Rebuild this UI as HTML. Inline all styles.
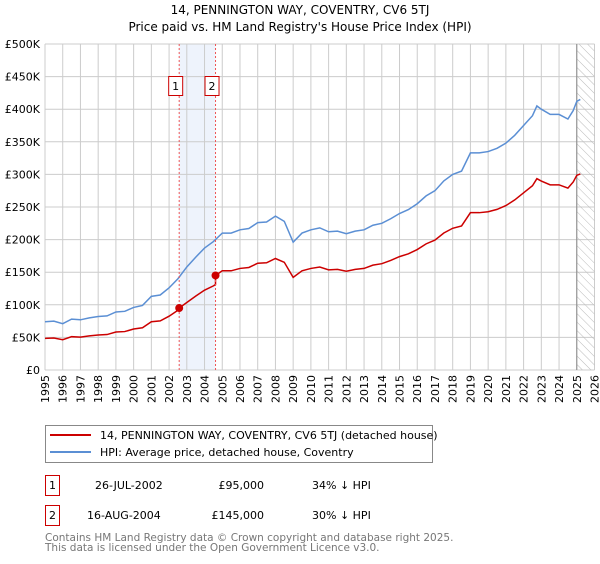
<!DOCTYPE html>
<html><head><meta charset="utf-8"><style>
body{margin:0;background:#fff;font-family:"DejaVu Sans","Liberation Sans",sans-serif;}
svg text{font-family:"DejaVu Sans","Liberation Sans",sans-serif;}
</style></head><body>
<svg id="chart" width="600" height="560" xmlns="http://www.w3.org/2000/svg">
<text x="300" y="14" font-size="12" text-anchor="middle">14, PENNINGTON WAY, COVENTRY, CV6 5TJ</text>
<text x="300" y="31" font-size="12" text-anchor="middle">Price paid vs. HM Land Registry's House Price Index (HPI)</text>
<defs><pattern id="hatch" width="6" height="6" patternUnits="userSpaceOnUse" patternTransform="rotate(-45)"><line x1="0" y1="0" x2="0" y2="6" stroke="#bbb" stroke-width="1"/></pattern></defs>
<g id="grid"></g><g id="marks"></g>
<g>
<rect x="45.5" y="425.5" width="387" height="37" fill="#fff" stroke="#888"/>
<line x1="50" y1="435" x2="91" y2="435" stroke="#cc0000" stroke-width="2"/>
<text x="100" y="439" font-size="11">14, PENNINGTON WAY, COVENTRY, CV6 5TJ (detached house)</text>
<line x1="50" y1="452" x2="91" y2="452" stroke="#5b8fd4" stroke-width="2"/>
<text x="100" y="456" font-size="11">HPI: Average price, detached house, Coventry</text>
</g>
<g font-size="11">
<rect x="45.5" y="475.5" width="14" height="20" fill="#fff" stroke="#cc0000"/>
<text x="52.5" y="489" text-anchor="middle">1</text>
<text x="95" y="489">26-JUL-2002</text><text x="264" y="489" text-anchor="end">£95,000</text><text x="312" y="489">34% ↓ HPI</text>
</g>
<g font-size="11">
<rect x="45.5" y="505.5" width="14" height="20" fill="#fff" stroke="#cc0000"/>
<text x="52.5" y="519" text-anchor="middle">2</text>
<text x="87" y="519">16-AUG-2004</text><text x="264" y="519" text-anchor="end">£145,000</text><text x="312" y="519">30% ↓ HPI</text>
</g>
<text x="45" y="541" font-size="10.5" fill="#777">Contains HM Land Registry data © Crown copyright and database right 2025.</text>
<text x="45" y="551" font-size="10.5" fill="#777">This data is licensed under the Open Government Licence v3.0.</text>
</svg>
<script>
const hpiYears=[1995,1995.5,1996,1996.5,1997,1997.5,1998,1998.5,1999,1999.5,2000,2000.5,2001,2001.5,2002,2002.5,2003,2003.5,2004,2004.5,2005,2005.5,2006,2006.5,2007,2007.5,2008,2008.5,2009,2009.5,2010,2010.5,2011,2011.5,2012,2012.5,2013,2013.5,2014,2014.5,2015,2015.5,2016,2016.5,2017,2017.5,2018,2018.5,2019,2019.5,2020,2020.5,2021,2021.5,2022,2022.5,2022.75,2023,2023.5,2024,2024.5,2024.8,2025,2025.2];
const hpiValues=[74,75,71,78,77,80,82,83,89,90,96,99,113,115,126,140,158,173,187,197,210,210,215,217,226,227,236,228,196,210,215,218,212,213,209,213,215,222,225,232,240,246,255,267,275,290,300,305,333,333,335,340,348,360,375,390,405,400,392,392,385,398,412,415];
const saleYears=[2002.57,2004.62];
const salePrices=[95,145];
const saleLabels=["1","2"];
const yTicks=[0,50,100,150,200,250,300,350,400,450,500];
const yTickLabels=["£0","£50K","£100K","£150K","£200K","£250K","£300K","£350K","£400K","£450K","£500K"];
const xTicks=[1995,1996,1997,1998,1999,2000,2001,2002,2003,2004,2005,2006,2007,2008,2009,2010,2011,2012,2013,2014,2015,2016,2017,2018,2019,2020,2021,2022,2023,2024,2025,2026];
const dataEnd=2025.0;
const X0=45,X1=594.5,Y0=370,Y1=44;
const xs=y=>X0+(y-1995)/(2026-1995)*(X1-X0);
const ys=v=>Y0-v/500*(Y0-Y1);
const NS="http://www.w3.org/2000/svg";
function mk(p,t,a){const e=document.createElementNS(NS,t);for(const k in a)e.setAttribute(k,a[k]);p.appendChild(e);return e;}
const g=document.getElementById('grid'),m=document.getElementById('marks');
function hpiAt(t){for(let i=0;i<hpiYears.length-1;i++){if(t>=hpiYears[i]&&t<=hpiYears[i+1]){const f=(t-hpiYears[i])/(hpiYears[i+1]-hpiYears[i]);return hpiValues[i]+f*(hpiValues[i+1]-hpiValues[i]);}}return hpiValues[hpiValues.length-1];}
const band=mk(g,'rect',{x:xs(saleYears[0]),y:Y1,width:xs(saleYears[1])-xs(saleYears[0]),height:Y0-Y1,fill:'#eef3fc'});


xTicks.forEach(t=>{
 const l=mk(g,'line',{x1:xs(t),x2:xs(t),y1:Y1,y2:Y0,stroke:'#ccc'});
 
 
 const tx=mk(g,'text',{x:0,y:0,'font-size':11,'text-anchor':'end',transform:'translate('+(xs(t)+4)+','+(Y0+5)+') rotate(-90)'});tx.textContent=t;
 
 
});
yTicks.forEach((v,i)=>{
 const l=mk(g,'line',{x1:X0,x2:X1,y1:ys(v),y2:ys(v),stroke:'#ccc'});
 
 
 const tx=mk(g,'text',{x:40,y:ys(v)+4,'font-size':11,'text-anchor':'end'});tx.textContent=yTickLabels[i];
 
 
});
const hatch=mk(g,'rect',{x:xs(dataEnd),y:Y1,width:X1-xs(dataEnd),height:Y0-Y1,fill:'url(#hatch)'});


const endLine=mk(g,'line',{x1:xs(dataEnd),x2:xs(dataEnd),y1:Y1,y2:Y0,stroke:'#888'});


const hp=mk(m,'polyline',{points:hpiYears.map((t,i)=>xs(t)+','+ys(hpiValues[i])).join(' '),fill:'none',stroke:'#5b8fd4','stroke-width':1.5});


const r1=0.655,r2=salePrices[1]/hpiAt(saleYears[1]);
const pts=[];
hpiYears.forEach((t,i)=>{
 if(t<saleYears[1])pts.push([t,hpiValues[i]*r1]);
 else pts.push([t,hpiValues[i]*r2]);
});
pts.push([saleYears[0],salePrices[0]],[saleYears[1]-0.001,hpiAt(saleYears[1])*r1],[saleYears[1],salePrices[1]]);
pts.sort((a,b)=>a[0]-b[0]);
const pl=mk(m,'polyline',{points:pts.map(p=>xs(p[0])+','+ys(p[1])).join(' '),fill:'none',stroke:'#cc0000','stroke-width':1.5});


saleYears.forEach((t,i)=>{
 const vl=mk(m,'line',{x1:xs(t),x2:xs(t),y1:Y1,y2:Y0,stroke:'#ee5555','stroke-dasharray':'2,2'});
 
 
 const c=mk(m,'circle',{cx:xs(t),cy:ys(salePrices[i]),r:4,fill:'#cc0000'});
 
 
 const b=mk(m,'rect',{x:xs(t)-10.5,y:76.5,width:14,height:19,fill:'#fff',stroke:'#cc0000'});
 
 
 const tx=mk(m,'text',{x:xs(t)-3.5,y:90,'font-size':11,'text-anchor':'middle'});tx.textContent=saleLabels[i];
 
 
});
</script>
</body></html>
